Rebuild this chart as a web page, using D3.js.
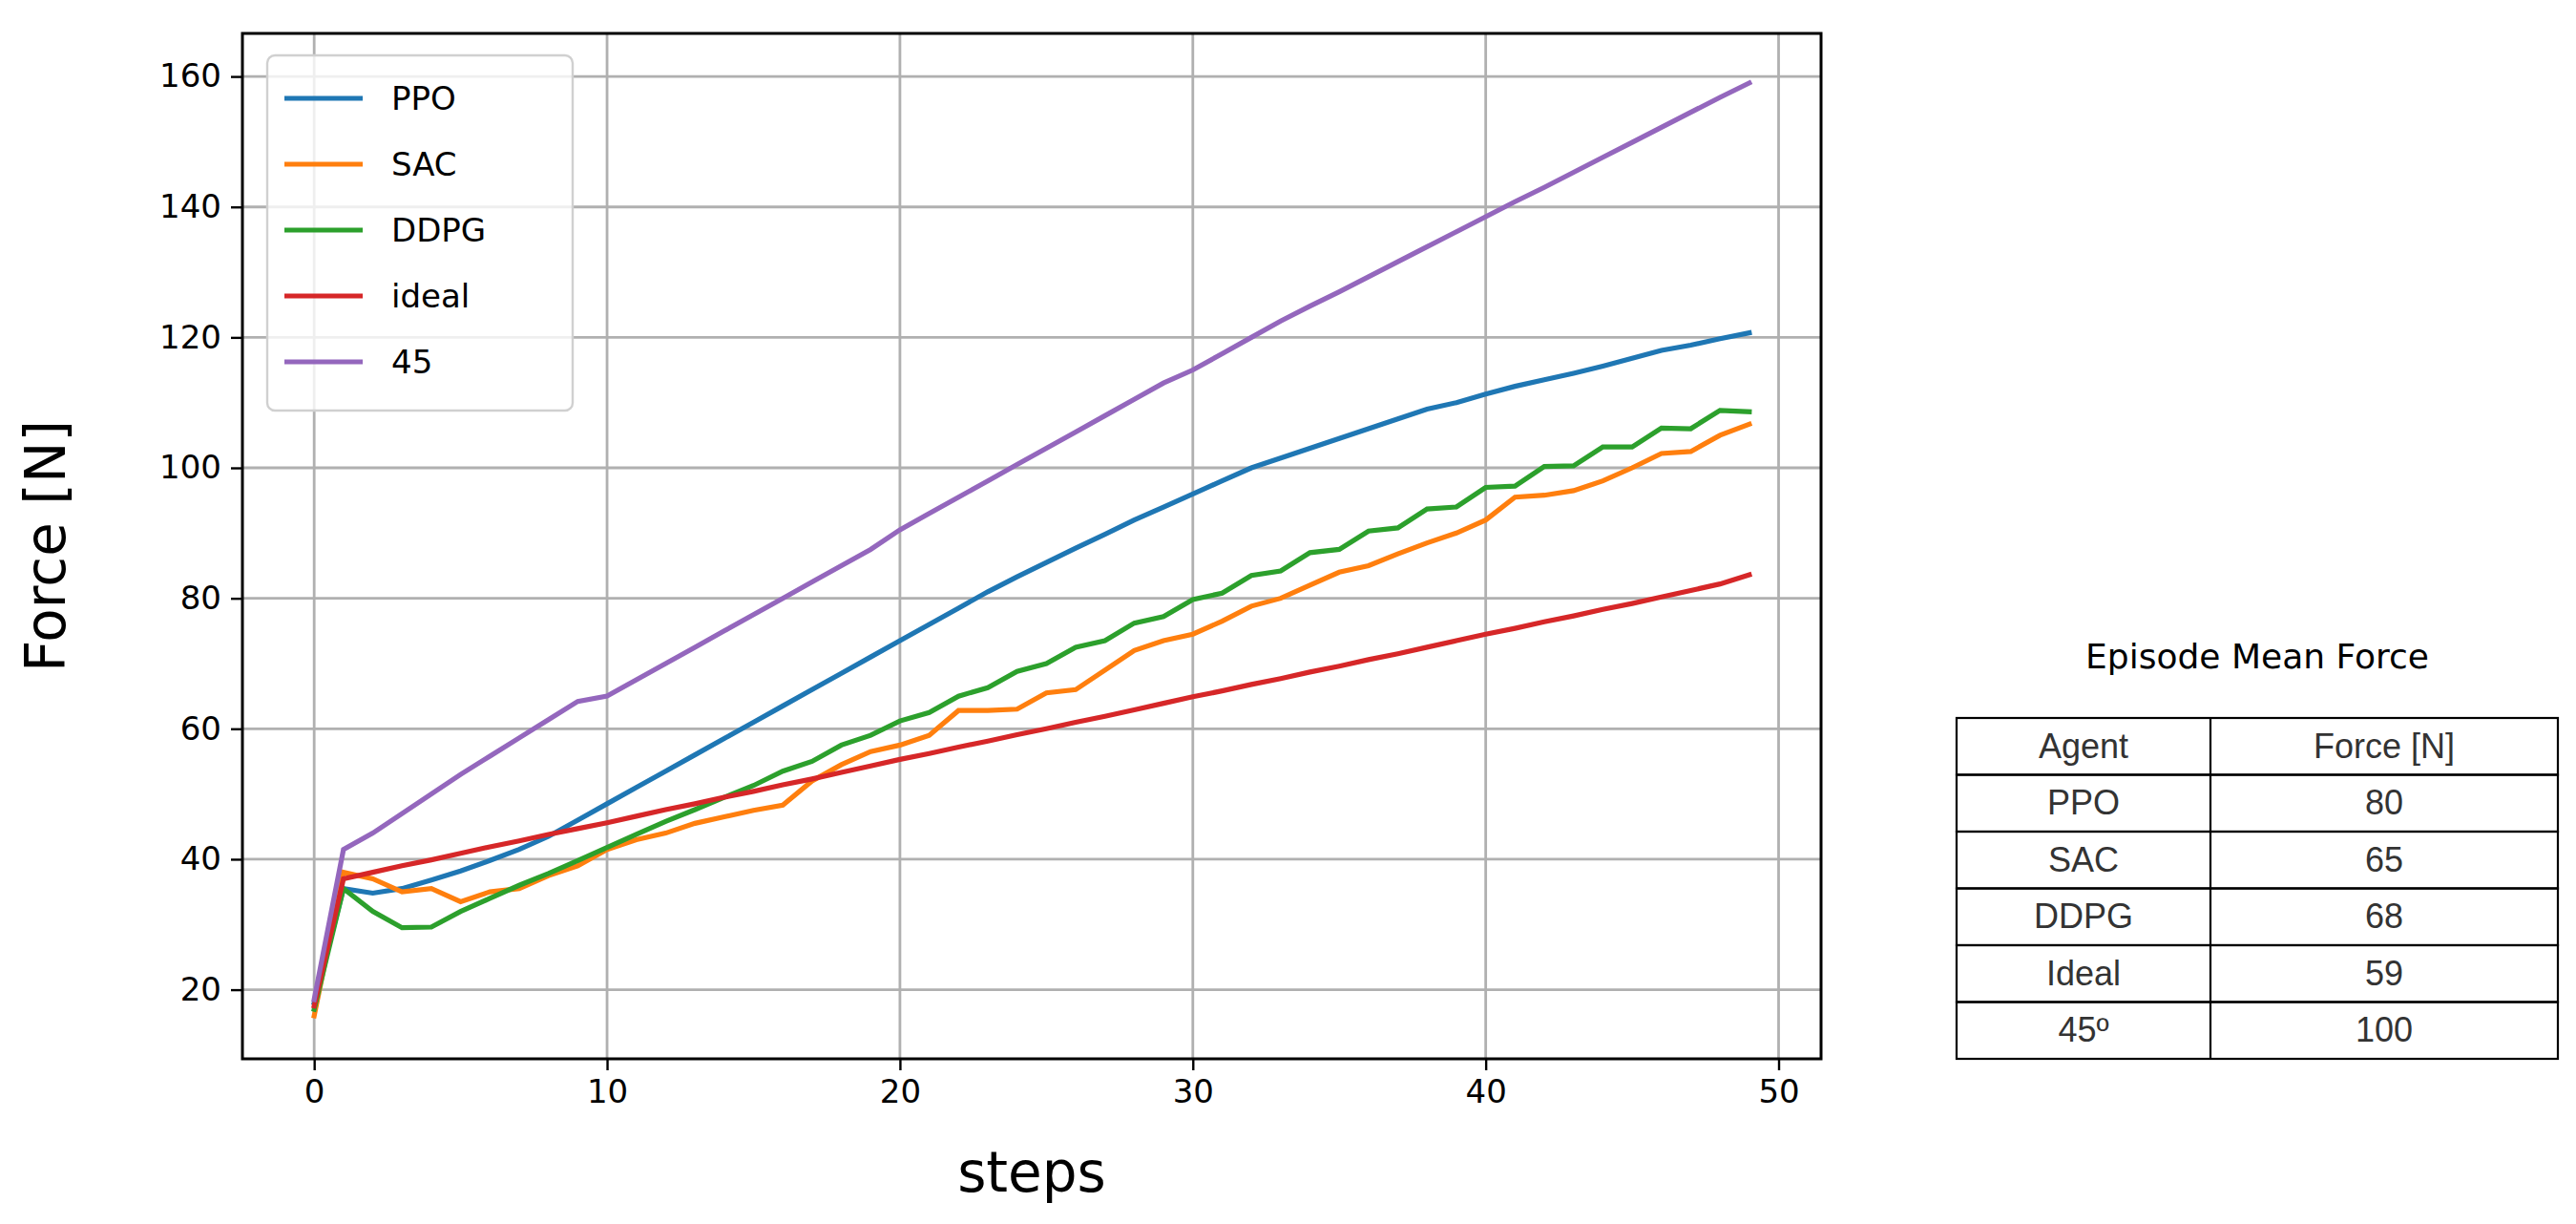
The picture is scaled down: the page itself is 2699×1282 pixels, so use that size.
<!DOCTYPE html>
<html><head><meta charset="utf-8">
<script src="https://cdn.jsdelivr.net/npm/d3@7"></script>
<style>body{margin:0;background:#fff}</style>
</head><body><svg></svg>
<script>
const steps = d3.range(50);
const ppo = [18,35.5,34.8,35.5,36.8,38.2,39.8,41.5,43.5,46,48.5,51,53.5,56,58.5,61,63.5,66,68.5,71,73.5,76,78.5,81,83.3,85.5,87.7,89.8,92,94,96,98,100,101.5,103,104.5,106,107.5,109,110,111.3,112.5,113.5,114.5,115.6,116.8,118,118.8,119.8,120.7];
const sac = [16,38,37,35,35.5,33.5,35,35.5,37.5,39,41.5,43,44,45.5,46.5,47.5,48.3,52,54.5,56.5,57.5,59,62.8,62.8,63,65.5,66,69,72,73.5,74.5,76.5,78.8,80,82,84,85,86.8,88.5,90,92,95.5,95.8,96.5,98,100,102.2,102.5,105,106.7];
const ddpg = [17,35.5,32,29.5,29.6,32,34,36,37.8,39.8,41.8,43.8,45.8,47.6,49.5,51.3,53.5,55,57.5,59,61.2,62.5,65,66.3,68.8,70,72.5,73.5,76.2,77.2,79.8,80.8,83.5,84.2,87,87.5,90.3,90.8,93.7,94,97,97.2,100.2,100.3,103.2,103.2,106.1,106,108.8,108.6];
const ideal = [17.5,37,38,39,39.9,40.9,41.9,42.8,43.8,44.7,45.6,46.6,47.6,48.5,49.5,50.4,51.4,52.3,53.3,54.3,55.3,56.2,57.2,58.1,59.1,60,61,61.9,62.9,63.9,64.9,65.8,66.8,67.7,68.7,69.6,70.6,71.5,72.5,73.5,74.5,75.4,76.4,77.3,78.3,79.2,80.2,81.2,82.2,83.6];
const deg45 = [18.5,41.5,44,47,50,53,55.8,58.6,61.4,64.2,65,67.5,70,72.5,75,77.5,80,82.5,85,87.5,90.5,93,95.5,98,100.5,103,105.5,108,110.5,113,115,117.5,120,122.5,124.8,127,129.3,131.6,133.9,136.2,138.5,140.8,143,145.3,147.6,149.9,152.2,154.5,156.8,159];
const seriesNames = ["PPO","SAC","DDPG","ideal","45"];
const seriesData = [ppo,sac,ddpg,ideal,deg45];
const colors = ["#1f77b4","#ff7f0e","#2ca02c","#d62728","#9467bd"];
const xTicks = [0,10,20,30,40,50];
const yTicks = [20,40,60,80,100,120,140,160];
const tableTitle = "Episode Mean Force";
const tableHead = ["Agent","Force [N]"];
const tableAgents = ["PPO","SAC","DDPG","Ideal","45º"];
const tableForces = ["80","65","68","59","100"];

const W = 2699, H = 1282;
const L = 254, R = 1908, T = 35, B = 1109;
const svg = d3.select("svg").attr("width", W).attr("height", H);

const x = d3.scaleLinear().domain([-2.45, 51.45]).range([L, R]);
const y = d3.scaleLinear().domain([9.4, 166.6]).range([B, T]);

// grid
svg.append("g").selectAll("line").data(xTicks).join("line")
  .attr("x1", d => x(d)).attr("x2", d => x(d)).attr("y1", T).attr("y2", B)
  .attr("stroke", "#b0b0b0").attr("stroke-width", 2.8);
svg.append("g").selectAll("line").data(yTicks).join("line")
  .attr("x1", L).attr("x2", R).attr("y1", d => y(d)).attr("y2", d => y(d))
  .attr("stroke", "#b0b0b0").attr("stroke-width", 2.8);

const line = d3.line().x((d, i) => x(steps[i])).y(d => y(d));
seriesData.forEach((s, k) => {
  svg.append("path").datum(s).attr("d", line).attr("fill", "none")
    .attr("stroke", colors[k]).attr("stroke-width", 5.2).attr("stroke-linecap", "square");
});

// axes
const xAxis = svg.append("g").attr("transform", `translate(0,${B})`)
  .call(d3.axisBottom(x).tickValues(xTicks).tickSize(12).tickPadding(10));
const yAxis = svg.append("g").attr("transform", `translate(${L},0)`)
  .call(d3.axisLeft(y).tickValues(yTicks).tickSize(12).tickPadding(10));
[xAxis, yAxis].forEach(a => {
  a.select(".domain").remove();
  a.selectAll("line").attr("stroke", "#000").attr("stroke-width", 2.4);
  a.selectAll("text").attr("font-family", "DejaVu Sans").attr("font-size", 34).attr("fill", "#000");
});
svg.append("rect").attr("x", L).attr("y", T).attr("width", R - L).attr("height", B - T)
  .attr("fill", "none").attr("stroke", "#000").attr("stroke-width", 3);

svg.append("text").attr("x", (L + R) / 2).attr("y", 1248).attr("text-anchor", "middle")
  .attr("font-family", "DejaVu Sans").attr("font-size", 58).text("steps");
svg.append("text").attr("transform", `translate(68,${(T + B) / 2}) rotate(-90)`)
  .attr("text-anchor", "middle").attr("font-family", "DejaVu Sans").attr("font-size", 58).text("Force [N]");

// legend
const lg = svg.append("g").attr("transform", "translate(280,58)");
lg.append("rect").attr("width", 320).attr("height", 372).attr("rx", 8)
  .attr("fill", "#fff").attr("fill-opacity", 0.8).attr("stroke", "#d0d0d0").attr("stroke-width", 2.4);
seriesNames.forEach((n, i) => {
  const yy = 45 + i * 69;
  lg.append("line").attr("x1", 18).attr("x2", 100).attr("y1", yy).attr("y2", yy)
    .attr("stroke", colors[i]).attr("stroke-width", 5.2);
  lg.append("text").attr("x", 130).attr("y", yy + 12).attr("font-family", "DejaVu Sans")
    .attr("font-size", 34).text(n);
});

// table
const tx0 = 2050, tx1 = 2316, tx2 = 2680, ty0 = 752, rh = 59.5;
svg.append("text").attr("x", (tx0 + tx2) / 2).attr("y", 700).attr("text-anchor", "middle")
  .attr("font-family", "DejaVu Sans").attr("font-size", 36).text(tableTitle);
const rows = [tableHead].concat(tableAgents.map((a, i) => [a, tableForces[i]]));
const tg = svg.append("g");
rows.forEach((r, i) => {
  const yy = ty0 + i * rh;
  tg.append("rect").attr("x", tx0).attr("y", yy).attr("width", tx2 - tx0).attr("height", rh)
    .attr("fill", "none").attr("stroke", "#000").attr("stroke-width", 2.2);
  [[tx0, tx1], [tx1, tx2]].forEach(([a, b], j) => {
    tg.append("text").attr("x", (a + b) / 2).attr("y", yy + rh / 2 + 12).attr("text-anchor", "middle")
      .attr("font-family", "Liberation Sans").attr("font-size", 36).attr("fill", "#333").text(r[j]);
  });
});
tg.append("line").attr("x1", tx1).attr("x2", tx1).attr("y1", ty0).attr("y2", ty0 + rows.length * rh)
  .attr("stroke", "#000").attr("stroke-width", 2.2);
</script></body></html>
